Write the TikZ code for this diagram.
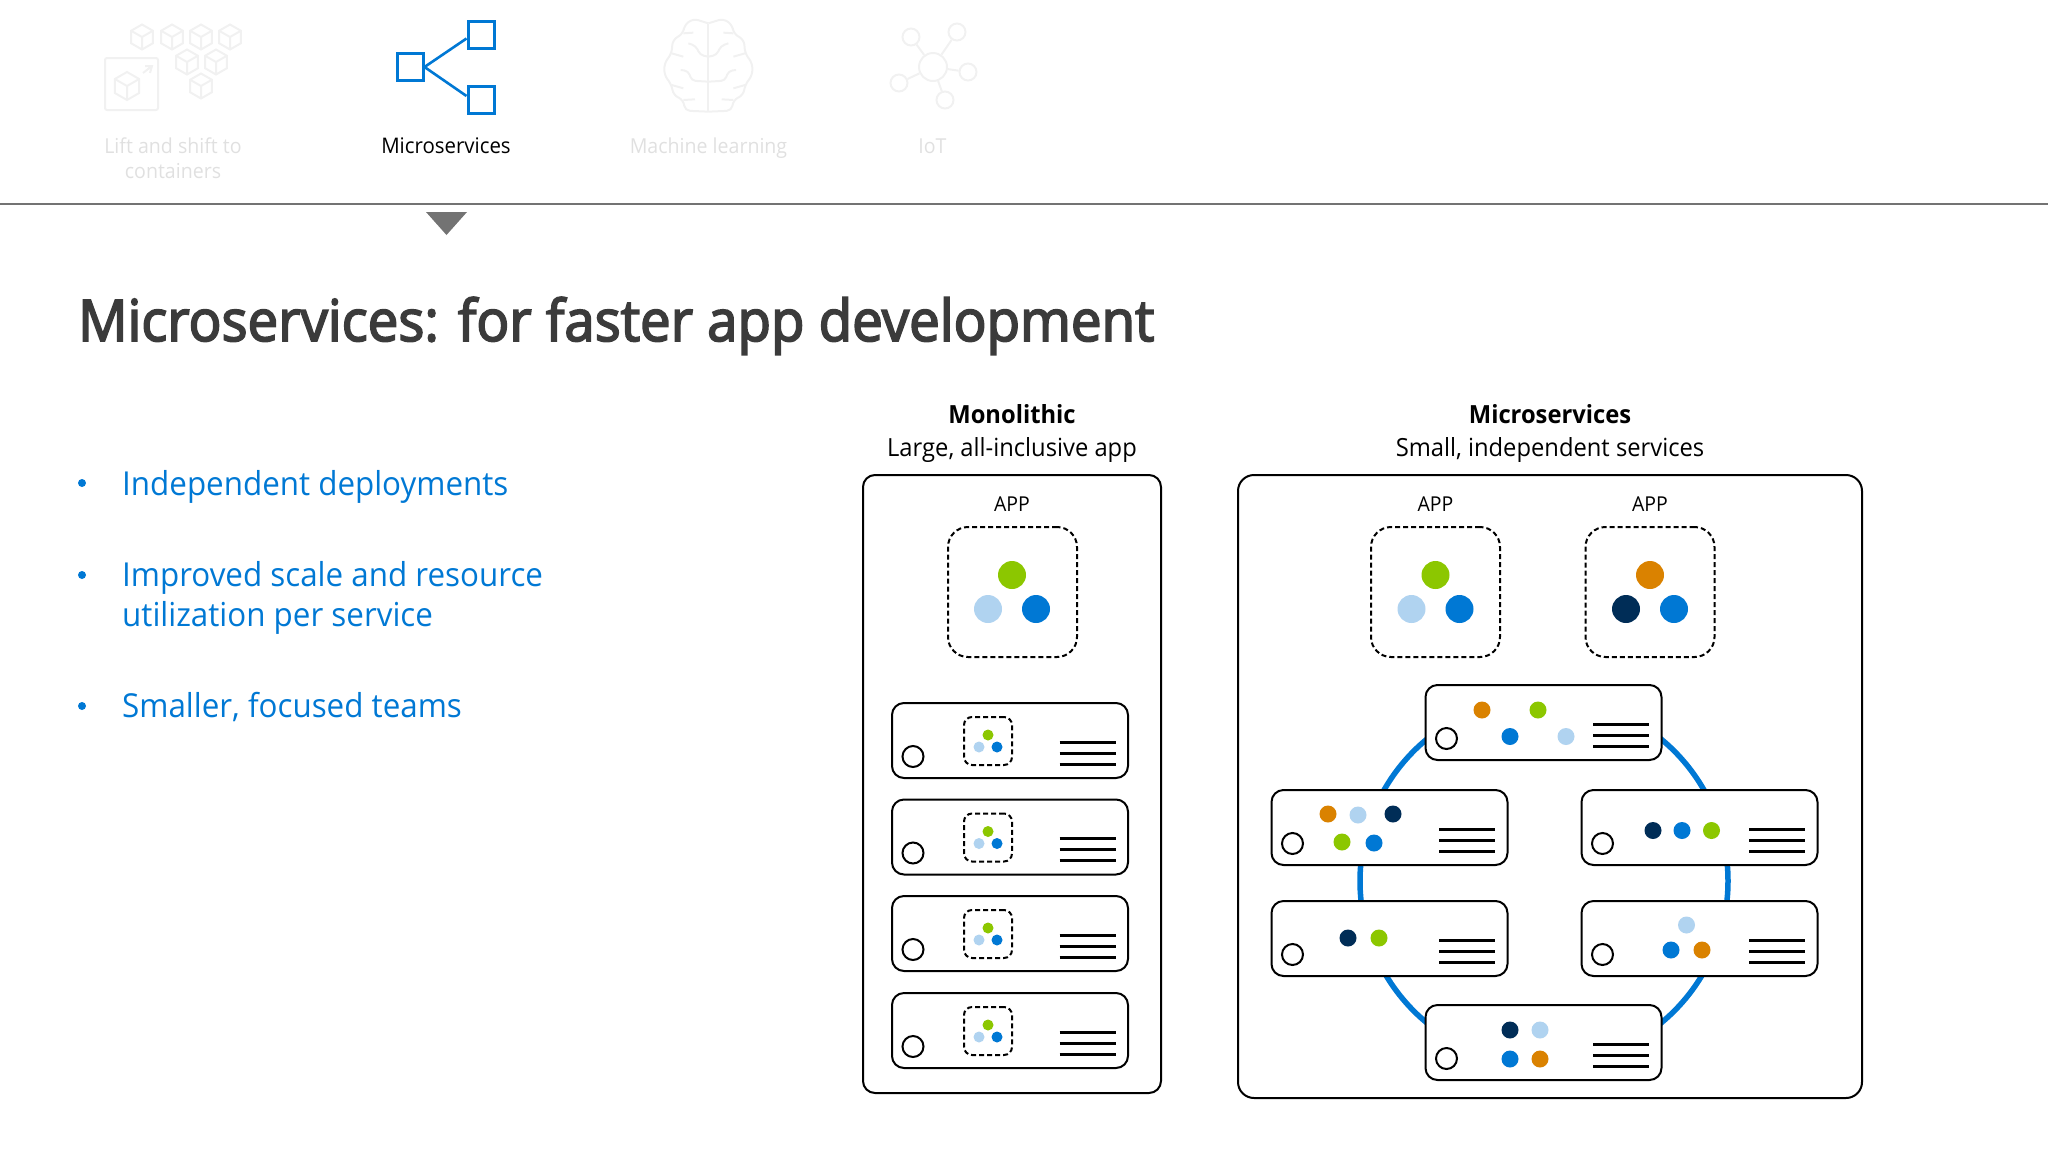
\documentclass[tikz,border=0pt]{standalone}
\usepackage{fontspec}
\setmainfont[FakeStretch=0.95]{Open Sans}
\newfontfamily\semifont[FakeStretch=0.95,FakeBold=3]{Open Sans}
\usetikzlibrary{calc}
\definecolor{msblue}{HTML}{0078D4}
\definecolor{msgreen}{HTML}{8CC700}
\definecolor{mslight}{HTML}{B0D3F0}
\definecolor{msnavy}{HTML}{002D57}
\definecolor{msorange}{HTML}{DA8200}
\definecolor{msfaint}{HTML}{F1F1F1}
\definecolor{mstab}{HTML}{E0E0E0}
\definecolor{mstitle}{HTML}{3B3B3B}
\tikzset{
  tabtext/.style={font=\fontsize{20.6}{25}\selectfont,text=mstab,anchor=base,inner sep=0pt},
  headtext/.style={font=\fontsize{25}{28}\selectfont,text=black,anchor=base,inner sep=0pt},
  apptext/.style={font=\fontsize{20.5}{22}\selectfont,text=black},
  bullettext/.style={font=\fontsize{33}{40}\selectfont,text=msblue,anchor=base west,inner sep=0pt},
  bulletdot/.style={circle,fill=msblue,inner sep=0pt,minimum size=8pt},
  iconbox/.style={draw=msblue,line width=3pt,fill=white,inner sep=0pt,minimum width=26pt,minimum height=27pt},
  faint/.style={draw=msfaint,line width=2pt},
  panel/.style={draw=black,line width=2pt,rounded corners=12pt},
  dashbox/.style={draw=black,line width=2pt,dash pattern=on 5pt off 3pt,rounded corners=#1},
  svc/.style={circle,inner sep=0pt,minimum size=#1},
  serverbox/.style={draw=black,line width=2pt,fill=white,rounded corners=12pt},
  serverlamp/.style={circle,draw=black,line width=2pt,inner sep=0pt,minimum size=21pt},
  serverline/.style={draw=black,line width=3pt}
}
% one server: name, left edge, top edge
\newcommand{\serverunit}[3]{
\node[serverbox,minimum width=236pt,minimum height=75pt,inner sep=0pt,anchor=north west] (#1) at (#2,#3) {};
\node[serverlamp] (#1lamp) at ($(#1.north west)+(22,54.5)$) {};
\draw[serverline] ($(#1.north west)+(168.5,40)$) -- ($(#1.north west)+(224.5,40)$);
\draw[serverline] ($(#1.north west)+(168.5,51)$) -- ($(#1.north west)+(224.5,51)$);
\draw[serverline] ($(#1.north west)+(168.5,62)$) -- ($(#1.north west)+(224.5,62)$);
}
% small app inside a monolithic server
\newcommand{\smallapp}[1]{
\node[dashbox=8pt,minimum width=48pt,minimum height=48pt,inner sep=0pt,anchor=north west] (#1app) at ($(#1.north west)+(72,14)$) {};
\node[svc=11pt,fill=msgreen] (#1g) at ($(#1app.center)+(0,-6)$) {};
\node[svc=11pt,fill=mslight] (#1l) at ($(#1app.center)+(-9,6)$) {};
\node[svc=11pt,fill=msblue] (#1b) at ($(#1app.center)+(9,6)$) {};
}
% cube icon, drawn in the faint colour
\newcommand{\cubeicon}[3]{
\draw[faint] (#1,#2-#3) -- (#1+.87*#3,#2-.5*#3) -- (#1+.87*#3,#2+.5*#3) -- (#1,#2+#3) -- (#1-.87*#3,#2+.5*#3) -- (#1-.87*#3,#2-.5*#3) -- cycle;
\draw[faint] (#1-.87*#3,#2-.5*#3) -- (#1,#2) -- (#1+.87*#3,#2-.5*#3) (#1,#2) -- (#1,#2+#3);
}
% one half of the brain, in the units of a 3x crop
\newcommand{\brainhalf}{
\draw[faint,rounded corners=5pt] (175,40) -- (130,26) -- (103,45) -- (100,70) -- (68,90) -- (65,130) -- (43,160) -- (43,195) -- (65,225) -- (70,255) -- (100,270) -- (105,302) -- (175,305);
\draw[faint,rounded corners=4pt] (115,100) -- (138,108) -- (150,135) -- (175,140);
\draw[faint,rounded corners=4pt] (92,180) -- (115,183) -- (125,212) -- (175,215);
\draw[faint,rounded corners=3pt] (65,130) -- (100,140);
\draw[faint,rounded corners=3pt] (65,225) -- (100,235);
\draw[faint,rounded corners=3pt] (100,70) -- (130,68);
\draw[faint,rounded corners=3pt] (100,270) -- (135,268);
}
\begin{document}
\begin{tikzpicture}[x=1pt,y=-1pt]
\useasboundingbox (0,0) rectangle (2048,1152);

% top tabs
\draw[faint,rounded corners=2pt] (105,58) rectangle (158,110);
\cubeicon{127}{86}{14}
\draw[faint] (143,73) -- (152,66) (145,66) -- (152,66) -- (150,73);
\cubeicon{142}{37}{12.5}
\cubeicon{172}{37}{12.5}
\cubeicon{201}{37}{12.5}
\cubeicon{230}{37}{12.5}
\cubeicon{187}{62}{12.5}
\cubeicon{216}{62}{12.5}
\cubeicon{201}{86}{12.5}
\node[tabtext] (tabLift) at (173,153.5) {Lift and shift to};
\node[tabtext] (tabLiftB) at (173,178.5) {containers};

\node[iconbox] (iconLeft) at (410,67) {};
\node[iconbox] (iconTop) at (481,34.5) {};
\node[iconbox] (iconBottom) at (481,100) {};
\draw[msblue,line width=2.6pt] ($(iconTop.south west)+(0,-11)$) -- (iconLeft.east) -- ($(iconBottom.north west)+(0,11)$);
\node[tabtext,text=black,font=\fontsize{21.5}{25}\selectfont] (tabMicro) at (446,153.5) {Microservices};

\begin{scope}[shift={(650,10)},x=.3333pt,y=-.3333pt]
\brainhalf
\end{scope}
\begin{scope}[shift={(766.7,10)},x=-.3333pt,y=-.3333pt]
\brainhalf
\end{scope}
\draw[faint] (708,24) -- (708,112);
\node[tabtext] (tabMl) at (708.5,153.5) {Machine learning};

\node[circle,faint,inner sep=0pt,minimum size=28pt] (iotHub) at (933,67) {};
\node[circle,faint,inner sep=0pt,minimum size=17pt] (iotA) at (911,37) {};
\node[circle,faint,inner sep=0pt,minimum size=17pt] (iotB) at (957,32) {};
\node[circle,faint,inner sep=0pt,minimum size=17pt] (iotC) at (968,72) {};
\node[circle,faint,inner sep=0pt,minimum size=17pt] (iotD) at (899,83) {};
\node[circle,faint,inner sep=0pt,minimum size=17pt] (iotE) at (945,100) {};
\draw[faint] (iotHub) -- (iotA);
\draw[faint] (iotHub) -- (iotB);
\draw[faint] (iotHub) -- (iotC);
\draw[faint] (iotHub) -- (iotD);
\draw[faint] (iotHub) -- (iotE);
\node[tabtext] (tabIot) at (932.5,153.5) {IoT};

\draw[draw=black!55,line width=2pt] (0,204) coordinate (ruleLeft) -- (2048,204) coordinate (ruleRight);
\fill[black!55] (426,212) -- (467,212) -- (446.5,235) -- cycle;

% title and bullets
\node[font=\semifont\fontsize{57.5}{68}\selectfont,text=mstitle,anchor=base west,inner sep=0pt] (title) at (78,341) {Microservices: for faster app development};

\node[bulletdot] (dotA) at (82,483) {};
\node[bullettext] (textA) at (122,495) {Independent deployments};
\node[bulletdot] (dotB) at (82,575) {};
\node[bullettext] (textB) at (122,586) {Improved scale and resource};
\node[bullettext] (textC) at (122,626) {utilization per service};
\node[bulletdot] (dotC) at (82,706) {};
\node[bullettext] (textD) at (122,717) {Smaller, focused teams};

% monolithic side
\node[headtext] (monoHead) at (1012,423) {\bfseries Monolithic};
\node[headtext] (monoSub) at (1012,456) {Large, all-inclusive app};
\draw[panel] (863,475) rectangle (1161,1093);
\node[apptext] (monoApp) at (1012,504) {APP};
\node[dashbox=20pt,minimum width=129pt,minimum height=130pt,inner sep=0pt] (monoBox) at (1012.5,592) {};
\node[svc=28pt,fill=msgreen] (monoG) at (1012,575) {};
\node[svc=28pt,fill=mslight] (monoL) at (988,609) {};
\node[svc=28pt,fill=msblue] (monoB) at (1036,609) {};

\serverunit{monoA}{891}{702}
\smallapp{monoA}
\serverunit{monoC}{891}{798.5}
\smallapp{monoC}
\serverunit{monoD}{891}{895}
\smallapp{monoD}
\serverunit{monoE}{891}{992}
\smallapp{monoE}

% microservices side
\node[headtext] (microHead) at (1550,423) {\bfseries Microservices};
\node[headtext] (microSub) at (1550,456) {Small, independent services};
\draw[panel,rounded corners=16pt] (1238,475) rectangle (1862,1098);
\node[apptext] (appOne) at (1435.5,504) {APP};
\node[apptext] (appTwo) at (1650,504) {APP};
\node[dashbox=20pt,minimum width=129pt,minimum height=130pt,inner sep=0pt] (boxOne) at (1435.5,592) {};
\node[svc=28pt,fill=msgreen] (oneG) at (1435.5,575) {};
\node[svc=28pt,fill=mslight] (oneL) at (1411.5,609) {};
\node[svc=28pt,fill=msblue] (oneB) at (1459.5,609) {};
\node[dashbox=20pt,minimum width=129pt,minimum height=130pt,inner sep=0pt] (boxTwo) at (1650,592) {};
\node[svc=28pt,fill=msorange] (twoO) at (1650,575) {};
\node[svc=28pt,fill=msnavy] (twoN) at (1626,609) {};
\node[svc=28pt,fill=msblue] (twoB) at (1674,609) {};

\node[circle,draw=msblue,line width=5.5pt,inner sep=0pt,minimum size=368pt] (ring) at (1544,881) {};

\serverunit{srvTop}{1424.5}{684}
\node[svc=17pt,fill=msorange] (topO) at (1482,710) {};
\node[svc=17pt,fill=msgreen] (topG) at (1538,710) {};
\node[svc=17pt,fill=msblue] (topB) at (1510,736.5) {};
\node[svc=17pt,fill=mslight] (topL) at (1566,736.5) {};

\serverunit{srvUpLeft}{1270.5}{789}
\node[svc=17pt,fill=msorange] (ulO) at (1328,814) {};
\node[svc=17pt,fill=mslight] (ulL) at (1358,815) {};
\node[svc=17pt,fill=msnavy] (ulN) at (1393,814) {};
\node[svc=17pt,fill=msgreen] (ulG) at (1342,842) {};
\node[svc=17pt,fill=msblue] (ulB) at (1374,843) {};

\serverunit{srvUpRight}{1580.5}{789}
\node[svc=17pt,fill=msnavy] (urN) at (1653,830.5) {};
\node[svc=17pt,fill=msblue] (urB) at (1682,830.5) {};
\node[svc=17pt,fill=msgreen] (urG) at (1711.5,830.5) {};

\serverunit{srvLowLeft}{1270.5}{900}
\node[svc=17pt,fill=msnavy] (llN) at (1348,938) {};
\node[svc=17pt,fill=msgreen] (llG) at (1379,938) {};

\serverunit{srvLowRight}{1580.5}{900}
\node[svc=17pt,fill=mslight] (lrL) at (1686.5,925) {};
\node[svc=17pt,fill=msblue] (lrB) at (1671,950) {};
\node[svc=17pt,fill=msorange] (lrO) at (1702,950) {};

\serverunit{srvBottom}{1424.5}{1004}
\node[svc=17pt,fill=msnavy] (botN) at (1510,1030) {};
\node[svc=17pt,fill=mslight] (botL) at (1540,1030) {};
\node[svc=17pt,fill=msblue] (botB) at (1510,1059) {};
\node[svc=17pt,fill=msorange] (botO) at (1540,1059) {};
\end{tikzpicture}
\end{document}
